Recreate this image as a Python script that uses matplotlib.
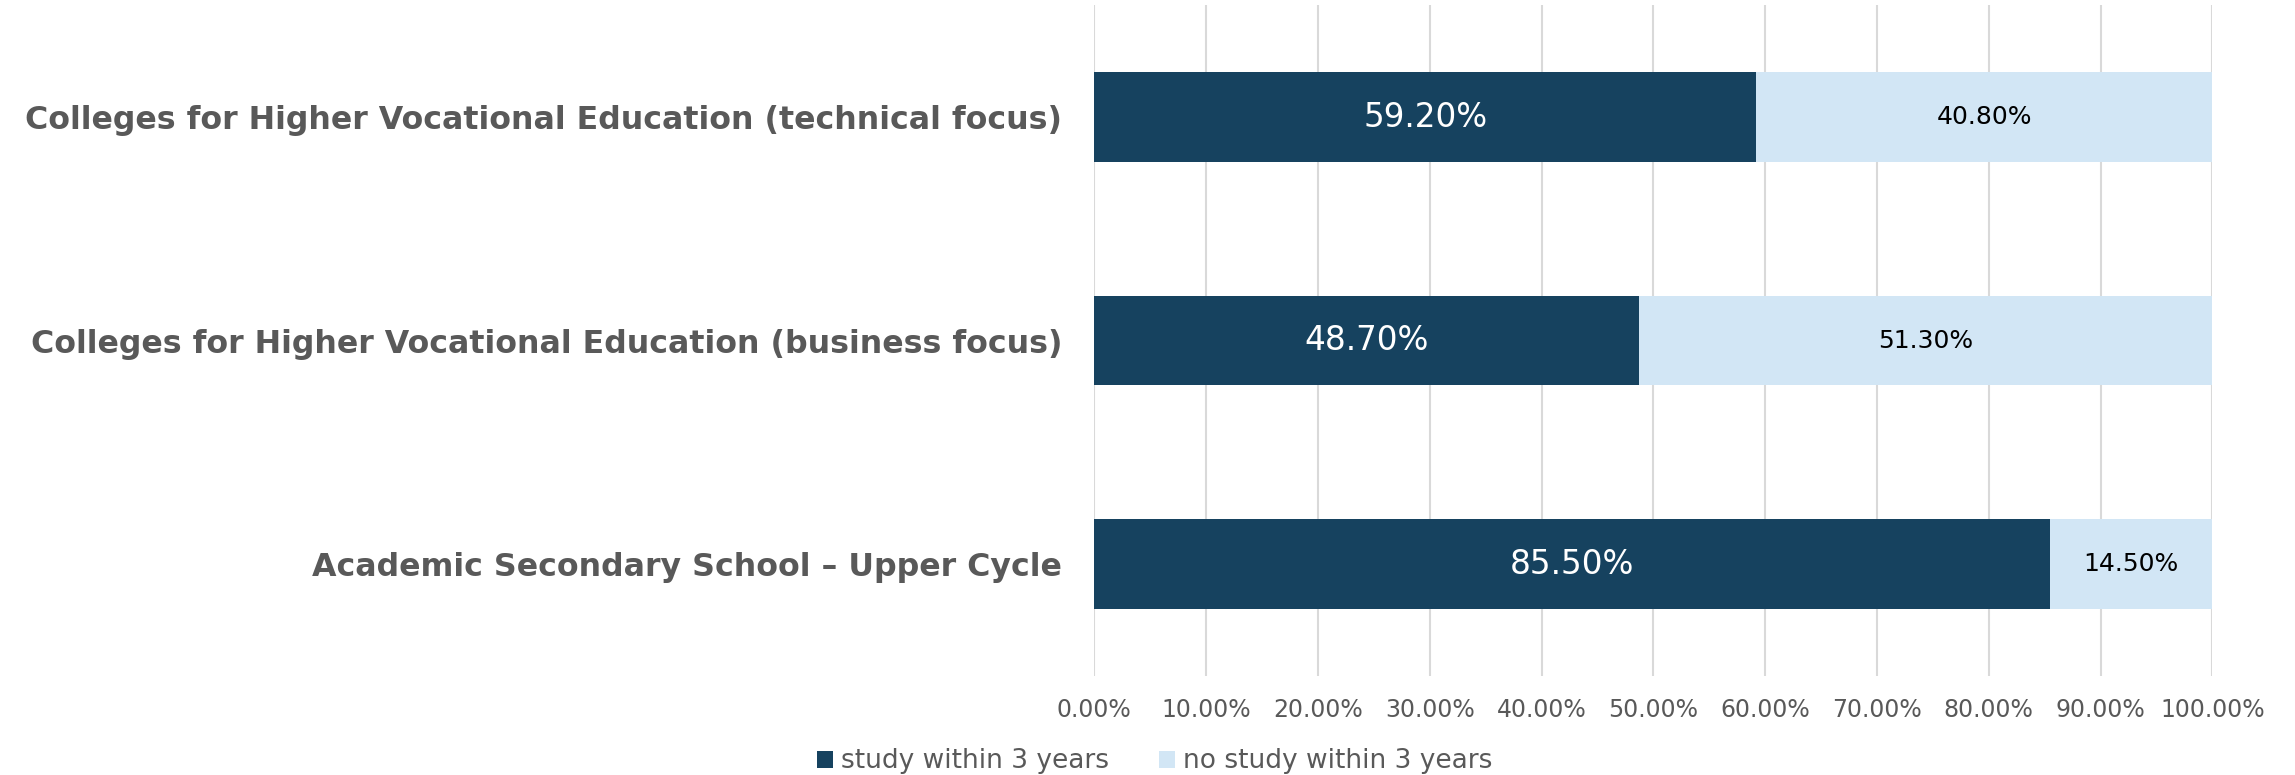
import matplotlib.pyplot as plt
import numpy as np

# data
categories = ['Academic Secondary School \u2013 Upper Cycle',
              'Colleges for Higher Vocational Education (business focus)',
              'Colleges for Higher Vocational Education (technical focus)']
study = [85.5, 48.7, 59.2]
no_study = [14.5, 51.3, 40.8]
series_names = ['study within 3 years', 'no study within 3 years']
xticks = [0, 10, 20, 30, 40, 50, 60, 70, 80, 90, 100]

dark = '#16425f'
light = '#d2e6f5'
grey = '#595959'

plt.rcParams['font.family'] = ['DejaVu Sans']

fig = plt.figure(figsize=(22.95, 7.75), dpi=100)
ax = fig.add_axes([0.4768, 0.128, 0.4872, 0.865])

y = np.arange(len(categories))
b1 = ax.barh(y, study, height=0.4, color=dark, label=series_names[0], zorder=3)
b2 = ax.barh(y, no_study, left=study, height=0.4, color=light, label=series_names[1], zorder=3)

for rect, v in zip(b1, study):
    ax.text(rect.get_x() + rect.get_width() / 2, rect.get_y() + rect.get_height() / 2,
            '%.2f%%' % v, ha='center', va='center', color='white', fontsize=23.5, zorder=4)
for rect, v in zip(b2, no_study):
    ax.text(rect.get_x() + rect.get_width() / 2, rect.get_y() + rect.get_height() / 2,
            '%.2f%%' % v, ha='center', va='center', color='black', fontsize=18, zorder=4)

ax.set_xlim(0, 100)
ax.set_ylim(-0.5, 2.5)
ax.set_xticks(xticks)
ax.set_xticklabels(['%.2f%%' % t for t in xticks], fontsize=17, color=grey)
ax.set_yticks(y)
ax.set_yticklabels(categories, fontsize=22.8, fontweight='bold', color=grey)
ax.tick_params(axis='both', length=0)
ax.tick_params(axis='x', pad=16)
ax.tick_params(axis='y', pad=23)
ax.grid(axis='x', color='#d9d9d9', linewidth=1.5, zorder=0)
for s in ax.spines.values():
    s.set_visible(False)

fig.legend(handles=[b1, b2], loc='lower center', bbox_to_anchor=(0.503, -0.03), ncol=2,
           frameon=False, fontsize=19, labelcolor=grey, handlelength=0.6, handleheight=0.6,
           handletextpad=0.3, columnspacing=1.9)

fig.savefig('out.png', dpi=100)
